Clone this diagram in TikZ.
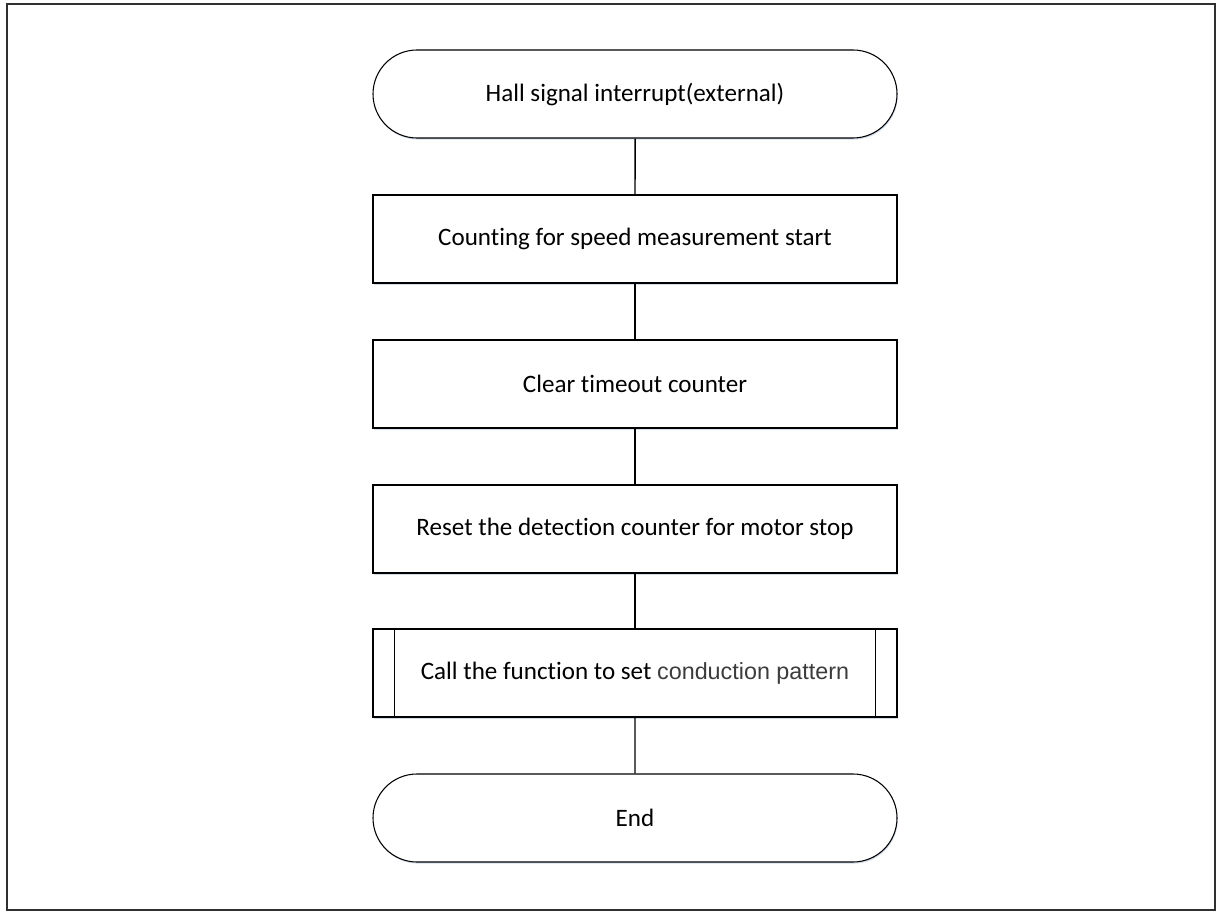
\documentclass[tikz,border=0pt]{standalone}
\usepackage{fontspec}
\setmainfont{Carlito}[Ligatures={NoCommon}]
\newfontfamily\arialfont{Liberation Sans}
\usetikzlibrary{shapes.misc,shadows}
\definecolor{framegray}{HTML}{303030}
\definecolor{textgray}{HTML}{3C3C3C}
\definecolor{shadowblue}{HTML}{C8D4E6}
\begin{document}
\begin{tikzpicture}[x=0.75pt,y=-0.75pt,
  base/.style={draw=black, line width=0.8pt, fill=white,
    minimum width=524*0.75pt, minimum height=88*0.75pt, inner sep=0pt,
    font=\fontsize{18.8}{22}\selectfont, text=black,
    drop shadow={shadow xshift=0.6pt, shadow yshift=-1.2pt, fill=shadowblue, opacity=0.8}},
  terminal/.style={base, rounded rectangle, rounded rectangle arc length=180},
  procbox/.style={base, rectangle},
  subproc/.style={base, rectangle,
    append after command={
      \pgfextra{\let\subnode\tikzlastnode}
      ([xshift=22*0.75pt]\subnode.north west) edge[draw=black, line width=0.8pt] ([xshift=22*0.75pt]\subnode.south west)
      ([xshift=-22*0.75pt]\subnode.north east) edge[draw=black, line width=0.8pt] ([xshift=-22*0.75pt]\subnode.south east)}},
  link/.style={draw=black, line width=1.1pt}]
\useasboundingbox (0,0) rectangle (1216,912);
% outer frame
\draw[framegray, line width=1.8pt] (7,4) rectangle (1215,910);

\node[terminal] (start) at (635,94) {Hall signal interrupt(external)};
\node[procbox]  (count) at (635,239) {Counting for speed measurement start};
\node[procbox]  (clear) at (635,384) {Clear timeout counter};
\node[procbox]  (reset) at (635,529) {Reset the detection counter for motor stop};
\node[subproc]  (call)  at (635,673) {Call the function to set {\arialfont\fontsize{17.5}{22}\selectfont\color{textgray}conduction pattern}};
\node[terminal] (stop)  at (635,818) {End};

\draw[link] (start) -- (count);
\draw[link] (count) -- (clear);
\draw[link] (clear) -- (reset);
\draw[link] (reset) -- (call);
\draw[link] (call)  -- (stop);
\end{tikzpicture}
\end{document}
